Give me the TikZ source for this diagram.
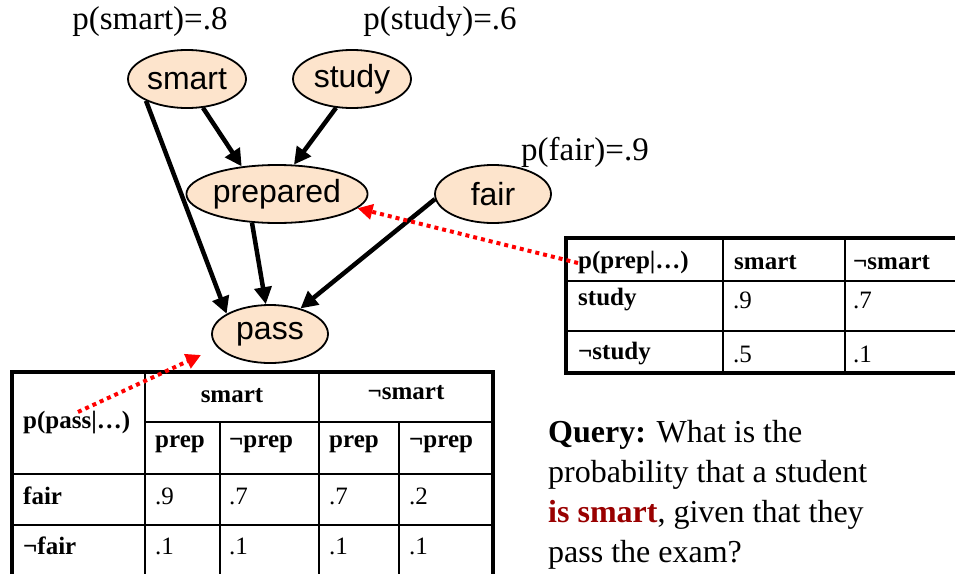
\documentclass[tikz,border=0pt]{standalone}
\usepackage{fontspec}
\setmainfont{Liberation Serif}
\setsansfont{Liberation Sans}
\usetikzlibrary{shapes.geometric, arrows.meta}

\definecolor{nodefill}{RGB}{253,228,204}
\definecolor{querycol}{RGB}{153,0,0}

\begin{document}
\begin{tikzpicture}[x=1pt, y=-1pt,
  var/.style={ellipse, draw, line width=1.8pt, fill=nodefill, inner sep=0pt, minimum height=58pt, font=\sffamily\fontsize{32}{36}\selectfont},
  dep/.style={line width=4.5pt, -{Triangle[length=17pt,width=17pt]}},
  lookup/.style={red, line width=4pt, dash pattern=on 4pt off 4pt, -{Triangle[length=15pt,width=15pt]}},
  lbl/.style={inner sep=0pt, font=\fontsize{33}{38}\selectfont},
  cell/.style={anchor=west, inner sep=0pt, font=\fontsize{25}{29}\selectfont},
  hd/.style={cell, font=\bfseries\fontsize{25}{29}\selectfont},
  grid/.style={line width=1.5pt},
  frame/.style={line width=4pt}]
\useasboundingbox (0,0) rectangle (955,573);

% network
\node (smart) [var, minimum width=118pt] at (187,79) {smart};
\node (study) [var, minimum width=118pt] at (352,79) {study};
\node (prepared) [var, minimum width=152pt] at (277,194) {prepared};
\node (fair) [var, minimum width=116pt] at (493,194) {fair};
\node (pass) [var, minimum width=116pt] at (270,334) {pass};

\node (psmart) [lbl] at (150,22) {p(smart)=.8};
\node (pstudy) [lbl] at (440,22) {p(study)=.6};
\node (pfair) [lbl] at (585,152) {p(fair)=.9};

\draw [dep] (smart.-61) -- (prepared.142);
\draw [dep] (study.-119) -- (prepared.60);
\draw [dep] (smart.-152) -- (pass.155);
\draw [dep] (prepared.-131) -- (pass.98);
\draw [dep] (fair.185) -- (pass.40);

% table p(prep|...)
\draw [frame] (960,238) -- (566,238) -- (566,373) -- (960,373);
\draw [grid] (566,281) -- (960,281) (566,331) -- (960,331)
  (723,238) -- (723,373) (845,238) -- (845,373);
\node (prephd) [hd] at (578,263) {p(prep|…)};
\node (ps1) [hd] at (734,263) {smart};
\node (ps2) [hd] at (853,263) {¬smart};
\node (pst) [hd] at (578,300) {study};
\node (pv1) [cell] at (733,300) {.9};
\node (pv2) [cell] at (853,300) {.7};
\node (pnst) [hd] at (578,354) {¬study};
\node (pv3) [cell] at (733,354) {.5};
\node (pv4) [cell] at (853,354) {.1};

% table p(pass|...)
\draw [frame] (12,580) -- (12,372) -- (493,372) -- (493,580);
\draw [grid] (145,372) -- (145,580) (319,372) -- (319,580)
  (220,422) -- (220,580) (399,422) -- (399,580)
  (145,422) -- (493,422) (12,474) -- (493,474) (12,525) -- (493,525);
\node (passhd) [hd] at (23,423) {p(pass|…)};
\node (qs1) [hd, anchor=center] at (232,396) {smart};
\node (qs2) [hd, anchor=center] at (406,393) {¬smart};
\node (qp1) [hd] at (155,444) {prep};
\node (qp2) [hd] at (229,444) {¬prep};
\node (qp3) [hd] at (329,444) {prep};
\node (qp4) [hd] at (409,444) {¬prep};
\node (qf) [hd] at (23,496) {fair};
\node (qv1) [cell] at (155,496) {.9};
\node (qv2) [cell] at (229,496) {.7};
\node (qv3) [cell] at (329,496) {.7};
\node (qv4) [cell] at (409,496) {.2};
\node (qnf) [hd] at (23,546) {¬fair};
\node (qv5) [cell] at (155,546) {.1};
\node (qv6) [cell] at (229,546) {.1};
\node (qv7) [cell] at (329,546) {.1};
\node (qv8) [cell] at (409,546) {.1};

% lookups
\coordinate (passfrom) at (78,412);
\coordinate (passtip) at (201,355);
\draw [lookup] (prephd.west) -- (prepared.-10);
\draw [lookup] (passfrom) -- (passtip);

% query
\node (query) [anchor=north west, align=left, inner sep=0pt, font=\fontsize{32}{40}\selectfont] at (548,420)
  {\textbf{Query:} What is the\\ probability that a student\\
   \textcolor{querycol}{\textbf{is smart}}, given that they\\ pass the exam?};
\end{tikzpicture}
\end{document}
